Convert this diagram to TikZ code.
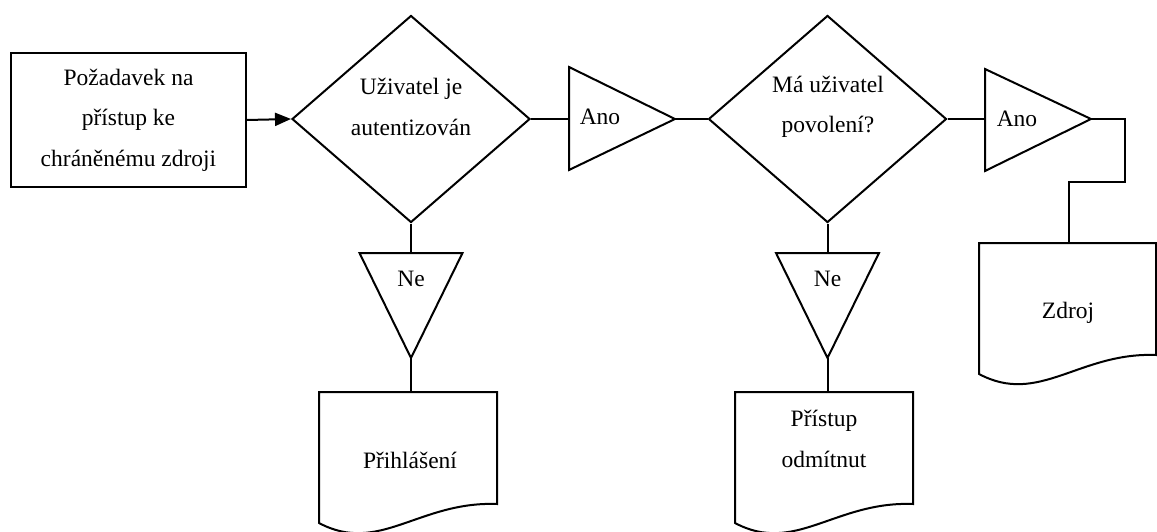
\documentclass[tikz,border=0pt]{standalone}
\usepackage{fontspec}
\setmainfont{Liberation Serif}
\usetikzlibrary{shapes.geometric,arrows.meta}
\begin{document}
\begin{tikzpicture}[x=1pt,y=1pt,line width=2pt,
  every node/.style={font=\fontsize{23.5}{40.5}\selectfont},
  txt/.style={align=center,inner sep=0pt},
  decision/.style={draw,diamond,inner sep=0pt,minimum width=238pt,minimum height=207pt},
  startbox/.style={draw,rectangle,align=center,inner sep=0pt,minimum width=235pt,minimum height=134pt},
  link/.style={line width=2pt},
  arrowlink/.style={line width=2pt,-{Triangle[length=16pt,width=13pt]}}]
\useasboundingbox (0,0) rectangle (1157,-532);

% start box
\node[startbox] (req) at (128.5,-120) {Požadavek na\\přístup ke\\chráněnému zdroji};

% decisions
\node[decision] (d1) at (411,-119) {};
\node[txt] (d1txt) at (411,-107) {Uživatel je\\autentizován};
\node[decision] (d2) at (827.5,-119) {};
\node[txt] (d2txt) at (828,-107) {Má uživatel\\povolení?};

% Ano triangles
\draw (569,-67) -- (675,-119) -- (569,-170) -- cycle;
\coordinate (t1in) at (569,-119);
\coordinate (t1out) at (675,-119);
\node[txt] (t1txt) at (600,-117) {Ano};

\draw (985,-69) -- (1091,-119) -- (985,-171) -- cycle;
\coordinate (t2in) at (985,-119);
\coordinate (t2out) at (1091,-119);
\node[txt] (t2txt) at (1017,-119) {Ano};

% Ne triangles
\draw (359.5,-253) -- (462.5,-253) -- (411,-358) -- cycle;
\coordinate (n1in) at (411,-253);
\coordinate (n1out) at (411,-358);
\node[txt] (n1txt) at (411,-279) {Ne};

\draw (776,-253) -- (879,-253) -- (827.5,-358) -- cycle;
\coordinate (n2in) at (827.5,-253);
\coordinate (n2out) at (827.5,-358);
\node[txt] (n2txt) at (827.5,-279) {Ne};

% documents
\begin{scope}[shift={(319,-392)}]
\draw (0,0) -- (178,0) -- (178,-112) .. controls (100,-109) and (60,-163) .. (0,-131) -- cycle;
\end{scope}
\coordinate (doc1top) at (411,-392);
\node[txt] (doc1txt) at (410,-460) {Přihlášení};

\begin{scope}[shift={(735,-392)}]
\draw (0,0) -- (178,0) -- (178,-112) .. controls (100,-109) and (60,-163) .. (0,-131) -- cycle;
\end{scope}
\coordinate (doc2top) at (827.5,-392);
\node[txt] (doc2txt) at (824,-439) {Přístup\\odmítnut};

\begin{scope}[shift={(979,-243)}]
\draw (0,0) -- (177,0) -- (177,-112) .. controls (100,-109) and (60,-163) .. (0,-131) -- cycle;
\end{scope}
\coordinate (doc3top) at (1069,-243);
\node[txt] (doc3txt) at (1068,-313) {Zdroj};

% connectors
\draw[arrowlink] (req.east) -- (d1.west);
\draw[link] (d1.east) -- (t1in);
\draw[link] (t1out) -- (d2.west);
\draw[link] (d2.east) -- (t2in);
\draw[link] (t2out) -- (1125,-119) -- (1125,-182) -- (1069,-182) -- (doc3top);
\draw[link] (d1.south) -- (n1in);
\draw[link] (n1out) -- (doc1top);
\draw[link] (d2.south) -- (n2in);
\draw[link] (n2out) -- (doc2top);
\end{tikzpicture}
\end{document}
